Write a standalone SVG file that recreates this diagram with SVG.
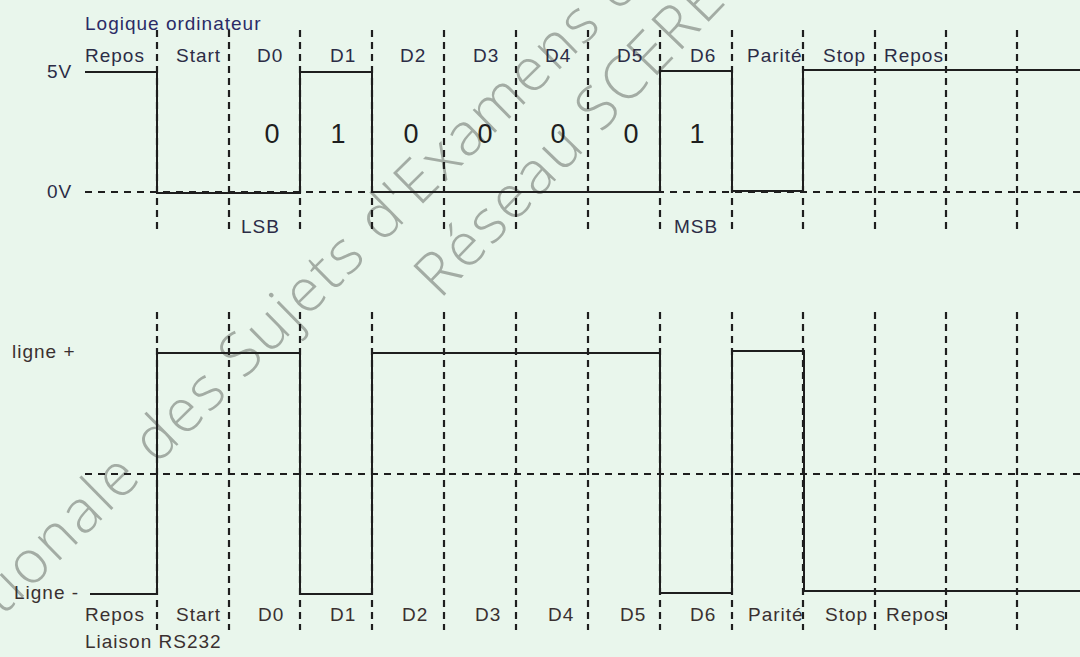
<svg xmlns="http://www.w3.org/2000/svg" width="1080" height="657" viewBox="0 0 1080 657">
<style>
.bg{fill:#e9f6ec}
.sig{fill:none;stroke:#1e1e1e;stroke-width:2;stroke-linejoin:miter}
.vd{fill:none;stroke:#1e1e1e;stroke-width:2.2;stroke-dasharray:7 5}
.hd{fill:none;stroke:#1e1e1e;stroke-width:2;stroke-dasharray:7 6}
.lbl{font-family:"Liberation Sans",Arial,sans-serif;font-size:19px;letter-spacing:1px;fill:#2c2c46}
.lblb{font-family:"Liberation Sans",Arial,sans-serif;font-size:19px;letter-spacing:1px;fill:#3a3030}
.dig{font-family:"Liberation Sans",Arial,sans-serif;font-size:27px;fill:#1e1e1e;text-anchor:middle}
.wm{font-family:"Open Sans","DejaVu Sans",sans-serif;font-weight:300;font-size:60px;fill:#a3aca4}
</style>
<rect class="bg" x="0" y="0" width="1080" height="657"/>

<g id="watermark">
<text class="wm" transform="translate(-22,641) rotate(-44.5)" textLength="967" lengthAdjust="spacing">ationale des Sujets d'Examens de</text>
<text class="wm" transform="translate(440,300) rotate(-46)" textLength="460" lengthAdjust="spacing">Réseau SCEREN</text>
</g>

<g id="connectors">
<path class="vd" d="M157,30V232M229,30V232M300,30V232M372,30V232M444,30V232M516,30V232M588,30V232M660,30V232M732,30V232M803,30V232M875,30V232M946,30V232M1017,30V232"/>
<path class="vd" d="M157,312V630M229,312V630M300,312V630M372,312V630M444,312V630M516,312V630M588,312V630M660,312V630M732,312V630M803,312V630M875,312V630M946,312V630M1017,312V630"/>
<path class="hd" d="M85,192H1080"/>
<path class="hd" d="M85,474H1080"/>
</g>

<g id="signal-logic">
<path class="sig" d="M85,72H157V193H300V72H372V192H660V71H732V191H803V70H1080"/>
</g>

<g id="signal-rs232">
<path class="sig" d="M90,594H157V353H300V594H372V353H660V593H732V351H804V591H1080"/>
</g>

<g id="labels-top">
<text class="lbl" x="85" y="30" style="fill:#2b2b66">Logique ordinateur</text>
<text class="lbl" x="47" y="78">5V</text>
<text class="lbl" x="47" y="198">0V</text>
<text class="lbl" x="85" y="62">Repos</text>
<text class="lbl" x="176" y="62">Start</text>
<text class="lbl" x="257" y="62">D0</text>
<text class="lbl" x="330" y="62">D1</text>
<text class="lbl" x="400" y="62">D2</text>
<text class="lbl" x="473" y="62">D3</text>
<text class="lbl" x="545" y="62">D4</text>
<text class="lbl" x="617" y="62">D5</text>
<text class="lbl" x="690" y="62">D6</text>
<text class="lbl" x="747" y="62">Parité</text>
<text class="lbl" x="823" y="62">Stop</text>
<text class="lbl" x="884" y="62">Repos</text>
<text class="lbl" x="241" y="233">LSB</text>
<text class="lbl" x="674" y="233">MSB</text>
</g>

<g id="bits">
<text class="dig" x="272" y="143">0</text>
<text class="dig" x="338" y="143">1</text>
<text class="dig" x="411" y="143">0</text>
<text class="dig" x="485" y="143">0</text>
<text class="dig" x="558" y="143">0</text>
<text class="dig" x="631" y="143">0</text>
<text class="dig" x="697" y="143">1</text>
</g>

<g id="labels-bottom">
<text class="lblb" x="12" y="358">ligne +</text>
<text class="lblb" x="14" y="599">Ligne -</text>
<text class="lblb" x="85" y="621">Repos</text>
<text class="lblb" x="176" y="621">Start</text>
<text class="lblb" x="258" y="621">D0</text>
<text class="lblb" x="330" y="621">D1</text>
<text class="lblb" x="402" y="621">D2</text>
<text class="lblb" x="475" y="621">D3</text>
<text class="lblb" x="548" y="621">D4</text>
<text class="lblb" x="620" y="621">D5</text>
<text class="lblb" x="690" y="621">D6</text>
<text class="lblb" x="748" y="621">Parité</text>
<text class="lblb" x="825" y="621">Stop</text>
<text class="lblb" x="886" y="621">Repos</text>
<text class="lblb" x="85" y="648">Liaison RS232</text>
</g>
</svg>
